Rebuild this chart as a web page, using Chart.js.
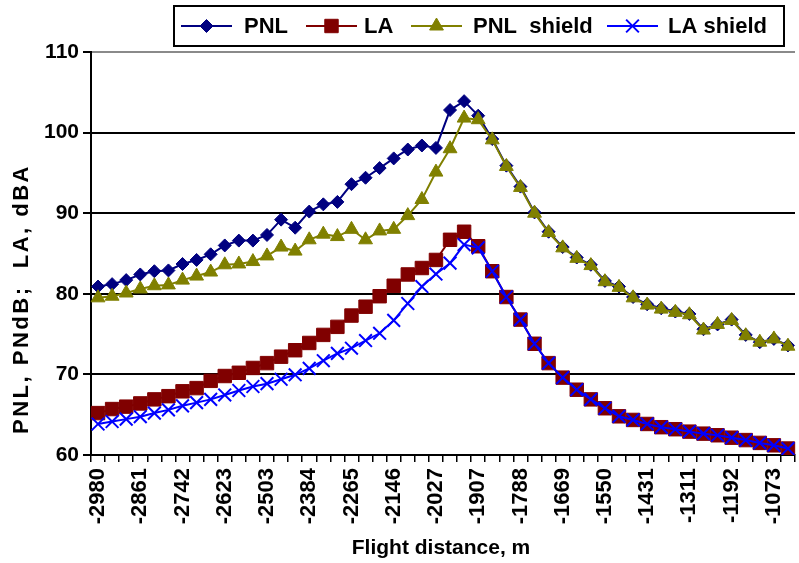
<!DOCTYPE html>
<html>
<head>
<meta charset="utf-8">
<script src="https://cdn.jsdelivr.net/npm/chart.js@4/dist/chart.umd.min.js"></script>
<style>
  html, body { margin: 0; padding: 0; background: #fff; overflow: hidden; }
  #wrap { width: 806px; height: 563px; position: relative; }
</style>
</head>
<body>
<div id="wrap"><canvas id="c"></canvas></div>
<script>
// Flight distance of each measurement point, m
const distances = [
  -2980, -2940, -2901, -2861, -2821, -2782, -2742, -2702, -2663, -2623,
  -2583, -2543, -2503, -2464, -2424, -2384, -2344, -2305, -2265, -2225,
  -2186, -2146, -2106, -2066, -2027, -1987, -1947, -1907, -1868, -1828,
  -1788, -1748, -1709, -1669, -1629, -1590, -1550, -1510, -1470, -1431,
  -1391, -1351, -1311, -1272, -1232, -1192, -1152, -1113, -1073, -1033
];

// Perceived noise level, PNdB
const pnl = [
  80.9, 81.2, 81.7, 82.4, 82.8, 82.9, 83.7, 84.2, 84.9, 86.0,
  86.6, 86.6, 87.3, 89.2, 88.2, 90.2, 91.1, 91.4, 93.6, 94.4,
  95.6, 96.8, 97.9, 98.4, 98.1, 102.8, 103.9, 102.1, 99.2, 95.9,
  93.3, 90.1, 87.7, 85.8, 84.5, 83.6, 81.6, 80.9, 79.6, 78.7,
  78.2, 77.8, 77.5, 75.6, 76.2, 76.8, 74.9, 74.0, 74.4, 73.6
];

// A-weighted sound level, dBA
const la = [
  65.2, 65.7, 66.0, 66.4, 66.9, 67.3, 67.9, 68.3, 69.2, 69.8,
  70.2, 70.8, 71.4, 72.2, 73.0, 73.9, 74.9, 75.9, 77.3, 78.4,
  79.7, 81.0, 82.4, 83.2, 84.2, 86.7, 87.7, 85.9, 82.8, 79.6,
  76.8, 73.8, 71.4, 69.6, 68.1, 66.9, 65.8, 64.8, 64.35, 63.85,
  63.45, 63.2, 62.9, 62.65, 62.45, 62.15, 61.85, 61.5, 61.2, 60.8
];

// Perceived noise level with shielding, PNdB
const pnlShield = [
  79.5, 79.7, 80.1, 80.6, 81.0, 81.1, 81.7, 82.2, 82.7, 83.6,
  83.7, 84.0, 84.7, 85.8, 85.3, 86.7, 87.4, 87.1, 88.0, 86.7,
  87.8, 88.0, 89.7, 91.7, 95.1, 98.0, 101.8, 101.6, 99.1, 95.8,
  93.2, 90.0, 87.6, 85.7, 84.4, 83.5, 81.5, 80.8, 79.5, 78.6,
  78.1, 77.7, 77.4, 75.5, 76.2, 76.7, 74.8, 74.0, 74.4, 73.5
];

// A-weighted sound level with shielding, dBA
const laShield = [
  63.85, 64.15, 64.45, 64.75, 65.2, 65.6, 66.1, 66.5, 66.9, 67.45,
  68.0, 68.5, 68.85, 69.4, 69.95, 70.75, 71.7, 72.6, 73.25, 74.2,
  75.1, 76.7, 78.8, 80.9, 82.45, 83.8, 86.1, 85.7, 82.8, 79.6,
  76.8, 73.8, 71.4, 69.6, 68.1, 66.9, 65.8, 64.8, 64.35, 63.85,
  63.45, 63.2, 62.9, 62.65, 62.45, 62.15, 61.85, 61.5, 61.2, 60.8
];

const yTicks = [60, 70, 80, 90, 100, 110];

const FONT = "'Liberation Sans', Arial, Helvetica, sans-serif";

const series = [
  { label: 'PNL',         data: pnl,       color: '#000080', style: 'rectRot',  radius: 6.5, width: 1 },
  { label: 'LA',          data: la,        color: '#800000', style: 'rect',     radius: 9.5, width: 1 },
  { label: 'PNL  shield', data: pnlShield, color: '#808000', style: 'triangle', radius: 8,   width: 1 },
  { label: 'LA shield',   data: laShield,  color: '#0000FF', style: 'crossRot', radius: 9,   width: 2 }
];

// Later series are painted on top of earlier ones
const datasets = series.map((s, i) => ({
  label: s.label,
  data: s.data,
  borderColor: s.color,
  backgroundColor: s.color,
  borderWidth: 2,
  pointStyle: s.style,
  pointRadius: s.radius,
  pointBorderWidth: s.width,
  pointBackgroundColor: s.color,
  pointBorderColor: s.color,
  tension: 0,
  order: series.length - i
}));

function drawMarker(ctx, s, x, y) {
  ctx.save();
  ctx.fillStyle = s.color;
  ctx.strokeStyle = s.color;
  ctx.lineWidth = s.width;
  const r = s.radius;
  ctx.beginPath();
  if (s.style === 'rectRot') {
    ctx.moveTo(x, y - r); ctx.lineTo(x + r, y); ctx.lineTo(x, y + r); ctx.lineTo(x - r, y);
    ctx.closePath(); ctx.fill(); ctx.stroke();
  } else if (s.style === 'rect') {
    const h = r * Math.SQRT1_2;
    ctx.rect(x - h, y - h, 2 * h, 2 * h); ctx.fill(); ctx.stroke();
  } else if (s.style === 'triangle') {
    ctx.moveTo(x, y - r);
    ctx.lineTo(x + r * Math.sin(2 * Math.PI / 3), y + r / 2);
    ctx.lineTo(x - r * Math.sin(2 * Math.PI / 3), y + r / 2);
    ctx.closePath(); ctx.fill(); ctx.stroke();
  } else {
    const d = r * Math.SQRT1_2;
    ctx.moveTo(x - d, y - d); ctx.lineTo(x + d, y + d);
    ctx.moveTo(x + d, y - d); ctx.lineTo(x - d, y + d);
    ctx.stroke();
  }
  ctx.restore();
}

// Framed legend, axis titles
const decorations = {
  id: 'decorations',
  afterDraw(chart) {
    const ctx = chart.ctx;
    ctx.save();

    // legend frame
    ctx.strokeStyle = '#000';
    ctx.lineWidth = 2;
    ctx.strokeRect(174, 6, 610, 40);

    const items = [
      { line: [181, 232], text: 244 },
      { line: [306, 357], text: 364 },
      { line: [411, 462], text: 473 },
      { line: [607, 658], text: 668 }
    ];
    const ly = 26;
    ctx.font = 'bold 22px ' + FONT;
    ctx.textBaseline = 'middle';
    ctx.textAlign = 'left';
    items.forEach((it, i) => {
      const s = series[i];
      ctx.strokeStyle = s.color;
      ctx.lineWidth = 2;
      ctx.beginPath();
      ctx.moveTo(it.line[0], ly);
      ctx.lineTo(it.line[1], ly);
      ctx.stroke();
      drawMarker(ctx, s, (it.line[0] + it.line[1]) / 2, ly);
      ctx.fillStyle = '#000';
      ctx.fillText(s.label, it.text, ly + 1);
    });

    // axis titles
    ctx.fillStyle = '#000';
    ctx.font = 'bold 21px ' + FONT;
    ctx.textAlign = 'center';
    ctx.textBaseline = 'middle';
    ctx.fillText('Flight distance, m', 441, 548);

    ctx.translate(22, 299);
    ctx.rotate(-Math.PI / 2);
    ctx.font = 'bold 22px ' + FONT;
    if ('letterSpacing' in ctx) ctx.letterSpacing = '2.5px';
    ctx.fillText('PNL, PNdB;  LA, dBA', 0, 0);
    ctx.restore();
  }
};

new Chart(document.getElementById('c'), {
  type: 'line',
  data: { labels: distances, datasets },
  options: {
    responsive: true,
    maintainAspectRatio: false,
    animation: false,
    devicePixelRatio: 1,
    layout: { padding: { top: 52, left: 0, right: 0, bottom: 0 } },
    plugins: { legend: { display: false }, tooltip: { enabled: false } },
    scales: {
      x: {
        type: 'category',
        offset: true,
        grid: { offset: true, drawOnChartArea: false, drawTicks: true, tickLength: 7, color: '#000', lineWidth: 1.5 },
        border: { display: true, color: '#000', width: 2 },
        ticks: {
          autoSkip: false,
          minRotation: 90,
          maxRotation: 90,
          padding: 6,
          color: '#000',
          font: { family: FONT, size: 22, weight: 'bold' },
          callback: (v, i) => (i % 3 === 0 ? String(distances[i]) : '')
        },
        afterFit(scale) { scale.height = 108; scale.paddingLeft = 0; scale.paddingRight = 0; }
      },
      y: {
        min: yTicks[0],
        max: yTicks[yTicks.length - 1],
        afterBuildTicks(scale) { scale.ticks = yTicks.map(v => ({ value: v })); },
        grid: {
          color: c => (c.tick && c.tick.value === 110 ? '#8a8a8a' : '#000'),
          lineWidth: 2,
          tickLength: 8,
          tickColor: '#000'
        },
        border: { display: true, color: '#000', width: 2 },
        ticks: {
          padding: 4,
          color: '#000',
          font: { family: FONT, size: 21, weight: 'bold' }
        },
        afterFit(scale) { scale.width = 91; }
      }
    }
  },
  plugins: [decorations]
});
</script>
</body>
</html>
